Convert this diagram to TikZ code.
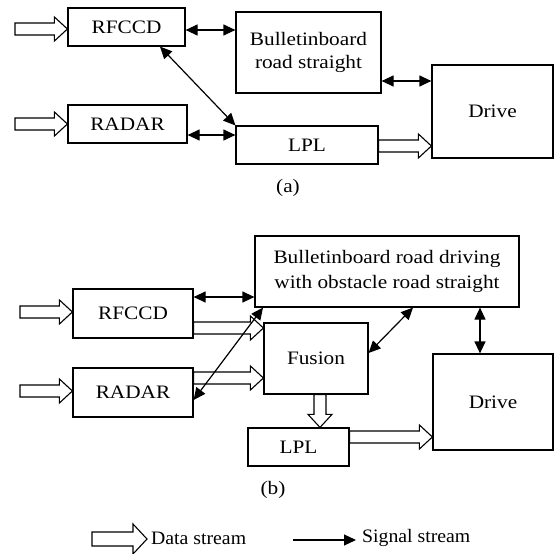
\documentclass[tikz,border=0pt]{standalone}
\usepackage{fontspec}
\setmainfont{Liberation Serif}[FakeStretch=1.12]
\newfontfamily\legendfont{Liberation Serif}[FakeStretch=1.04]
\usetikzlibrary{arrows.meta,calc}

\tikzset{
  box/.style={draw, line width=1.2pt, rectangle, inner sep=0pt, align=center,
              font=\fontsize{19}{24}\selectfont},
  lbl/.style={inner sep=0pt, font=\fontsize{19}{24}\selectfont},
  leg/.style={inner sep=0pt, font=\legendfont\fontsize{19}{24}\selectfont},
  sig/.style={line width=1.2pt, {Triangle[length=12pt,width=11pt]}-{Triangle[length=12pt,width=11pt]}},
  sigone/.style={line width=1.2pt, -{Triangle[length=12pt,width=11pt]}},
  fatline/.style={draw, line width=1.1pt, fill=white, line join=miter}
}

% hollow block arrow from #4 to #5: half shaft #1, half head #2, head length #3
\newcommand\datapathx[5]{%
  \coordinate (hb) at ($(#5)!#3!(#4)$);
  \draw[fatline] ($(#4)!#1!90:(#5)$) -- ($(hb)!#1!90:(#5)$)
    -- ($(hb)!#2!90:(#5)$) -- (#5) -- ($(hb)!#2!-90:(#5)$)
    -- ($(hb)!#1!-90:(#5)$) -- ($(#4)!#1!-90:(#5)$) -- cycle;}
\newcommand\datapath[2]{\datapathx{6pt}{12pt}{13pt}{#1}{#2}}

\begin{document}
\begin{tikzpicture}[x=1pt, y=-1pt]
\useasboundingbox (0,0) rectangle (555,554);

% ---------------- (a) ----------------
\node[box, minimum width=117pt, minimum height=38pt] (rfA) at (126.5,27) {RFCCD};
\node[box, minimum width=119pt, minimum height=38pt] (radA) at (127.5,124) {RADAR};
\node[box, minimum width=145pt, minimum height=81pt, font=\fontsize{19}{23}\selectfont] (bbA) at (308.5,52.5) {Bulletinboard\\road straight};
\node[box, minimum width=142pt, minimum height=38pt] (lplA) at (307,145) {LPL};
\node[box, minimum width=121pt, minimum height=93pt] (drvA) at (492.5,111.5) {Drive};
\node[lbl] (capA) at (288,188) {(a)};

\coordinate (inRfA) at (15,29);
\coordinate (inRadA) at (15,124);
\datapath{inRfA}{inRfA -| rfA.west}
\datapath{inRadA}{inRadA -| radA.west}

\draw[sig] (rfA.east |- 0,30) -- (bbA.west |- 0,30);
\draw[sig] (rfA.south -| 160,0) -- (lplA.north west);
\draw[sig] (radA.east |- 0,135) -- (lplA.west |- 0,135);
\draw[sig] (bbA.east |- 0,81) -- (drvA.west |- 0,81);
\datapath{lplA.east |- 0,146}{drvA.west |- 0,146}

% ---------------- (b) ----------------
\node[box, minimum width=120pt, minimum height=49pt] (rfB) at (133,313.5) {RFCCD};
\node[box, minimum width=120pt, minimum height=49pt] (radB) at (133,392.5) {RADAR};
\node[box, minimum width=264pt, minimum height=71pt, font=\fontsize{19}{25}\selectfont] (bbB) at (387,271.5) {Bulletinboard road driving\\with obstacle road straight};
\node[box, minimum width=104pt, minimum height=71pt] (fus) at (316,358.5) {Fusion};
\node[box, minimum width=120pt, minimum height=96pt] (drvB) at (493,402) {Drive};
\node[box, minimum width=101pt, minimum height=38pt] (lplB) at (298.5,447) {LPL};
\node[lbl] (capB) at (273,490) {(b)};

\coordinate (inRfB) at (20,312);
\coordinate (inRadB) at (20,391);
\datapath{inRfB}{inRfB -| rfB.west}
\datapath{inRadB}{inRadB -| radB.west}

\draw[sig] (rfB.east |- 0,297) -- (bbB.west |- 0,297);
\datapath{rfB.east |- 0,328}{fus.west |- 0,328}
\datapath{radB.east |- 0,378}{fus.west |- 0,378}
\draw[sig] (radB.east |- 0,400) -- (bbB.south -| 263,0);
\draw[sig] (fus.east |- 0,353) -- (bbB.south -| 413,0);
\draw[sig] (bbB.south -| 480,0) -- (drvB.north -| 480,0);
\datapath{fus.south -| 320,0}{lplB.north -| 320,0}
\datapath{lplB.east |- 0,437}{drvB.west |- 0,437}

% ---------------- legend ----------------
\coordinate (ldA) at (92,539);
\coordinate (ldB) at (147,539);
\datapathx{7pt}{15pt}{14pt}{ldA}{ldB}
\node[leg, anchor=west] (ldT) at (151,538) {Data stream};
\coordinate (lsA) at (293,540);
\coordinate (lsB) at (356,540);
\draw[sigone] (lsA) -- (lsB);
\node[leg, anchor=west] (lsT) at (362,538) {Signal stream};
\end{tikzpicture}
\end{document}
